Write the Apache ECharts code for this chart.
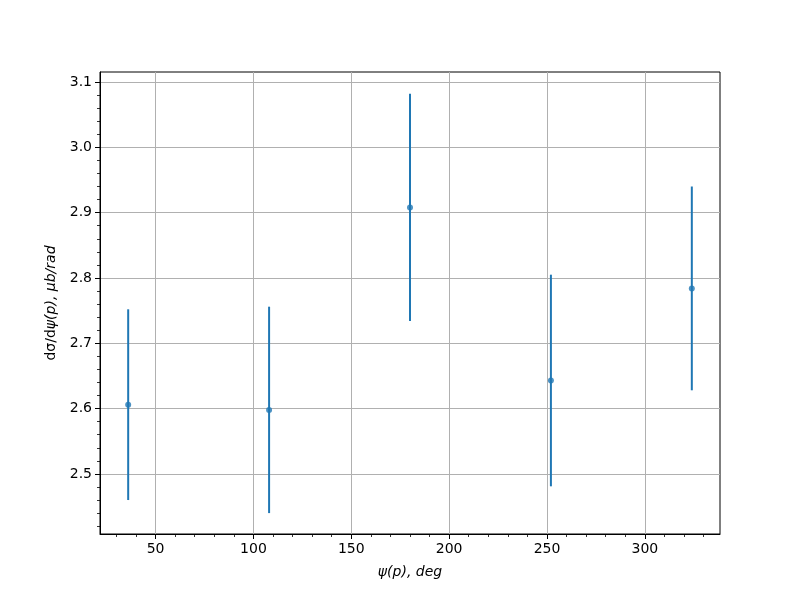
<!DOCTYPE html>
<html>
<head>
<meta charset="utf-8">
<script src="https://cdn.jsdelivr.net/npm/echarts@6/dist/echarts.min.js"></script>
<style>html,body{margin:0;padding:0;background:#fff}#c{width:800px;height:600px}</style>
</head>
<body>
<div id="c"></div>
<script>
const psiDeg = [36, 108, 180, 252, 324];
const dsigma = [2.606, 2.598, 2.908, 2.643, 2.784];
const errors = [0.146, 0.158, 0.174, 0.162, 0.156];

const xMajorTicks = [50, 100, 150, 200, 250, 300];
const xMinorTicks = [30, 40, 60, 70, 80, 90, 110, 120, 130, 140, 160, 170, 180, 190, 210, 220, 230, 240, 260, 270, 280, 290, 310, 320, 330];
const yMajorTicks = [2.5, 2.6, 2.7, 2.8, 2.9, 3.0, 3.1];
const yMinorTicks = [2.42, 2.44, 2.46, 2.48, 2.52, 2.54, 2.56, 2.58, 2.62, 2.64, 2.66, 2.68, 2.72, 2.74, 2.76, 2.78,
  2.82, 2.84, 2.86, 2.88, 2.92, 2.94, 2.96, 2.98, 3.02, 3.04, 3.06, 3.08];

const xMin = 21.6, xMax = 338.4;
const yMin = 2.408, yMax = 3.1153;

const points = psiDeg.map((x, i) => [x, dsigma[i]]);
const bars = psiDeg.map((x, i) => [x, dsigma[i] - errors[i], dsigma[i] + errors[i]]);

const font = 'DejaVu Sans';
const black = '#000';
const chart = echarts.init(document.getElementById('c'));

function majorAxis(extra) {
  return Object.assign({
    type: 'value',
    axisLine: { show: true, onZero: false, lineStyle: { color: black, width: 1 } },
    axisTick: { show: true, length: 5, lineStyle: { color: black, width: 1 } },
    splitLine: { show: true, lineStyle: { color: '#b0b0b0', width: 1 } }
  }, extra);
}
function minorAxis(extra) {
  return Object.assign({
    type: 'value',
    axisLine: { show: false },
    axisLabel: { show: false },
    splitLine: { show: false }
  }, extra);
}

chart.setOption({
  animation: false,
  backgroundColor: '#fff',
  grid: { left: 100, right: 80, top: 72, bottom: 66, show: true, borderColor: black, borderWidth: 1, backgroundColor: 'transparent' },
  xAxis: [
    majorAxis({
      min: xMin, max: xMax, position: 'bottom',
      name: '{i|ψ(p), deg}', nameLocation: 'middle', nameGap: 31,
      nameTextStyle: { rich: { i: { fontFamily: font, fontSize: 14, fontStyle: 'italic', color: black } } },
      axisTick: { show: true, length: 5, customValues: xMajorTicks, lineStyle: { color: black, width: 1 } },
      axisLabel: { fontFamily: font, fontSize: 14, color: black, margin: 8, customValues: xMajorTicks }
    }),
    minorAxis({
      min: xMin, max: xMax, position: 'bottom',
      axisTick: { show: true, length: 3, customValues: xMinorTicks, lineStyle: { color: black, width: 0.8 } }
    })
  ],
  yAxis: [
    majorAxis({
      min: yMin, max: yMax, position: 'left',
      name: '{n|dσ/d}{i|ψ(p), μb/rad}', nameLocation: 'middle', nameGap: 38, nameRotate: 90,
      nameTextStyle: { rich: {
        n: { fontFamily: font, fontSize: 14, color: black },
        i: { fontFamily: font, fontSize: 14, fontStyle: 'italic', color: black } } },
      axisTick: { show: true, length: 5, customValues: yMajorTicks, lineStyle: { color: black, width: 1 } },
      axisLabel: { fontFamily: font, fontSize: 14, color: black, margin: 8, customValues: yMajorTicks,
        formatter: v => v.toFixed(1) }
    }),
    minorAxis({
      min: yMin, max: yMax, position: 'left',
      axisTick: { show: true, length: 3, customValues: yMinorTicks, lineStyle: { color: black, width: 0.8 } }
    })
  ],
  series: [
    {
      type: 'custom',
      data: bars,
      renderItem: (params, api) => {
        const x = api.value(0);
        const lo = api.coord([x, api.value(1)]);
        const hi = api.coord([x, api.value(2)]);
        return { type: 'line', shape: { x1: lo[0], y1: lo[1], x2: hi[0], y2: hi[1] },
          style: { stroke: '#1f77b4', lineWidth: 2 } };
      },
      encode: { x: 0, y: [1, 2] },
      z: 3
    },
    {
      type: 'scatter',
      data: points,
      symbol: 'circle', symbolSize: 6,
      itemStyle: { color: '#1f77b4' },
      z: 4
    }
  ]
});
</script>
</body>
</html>
